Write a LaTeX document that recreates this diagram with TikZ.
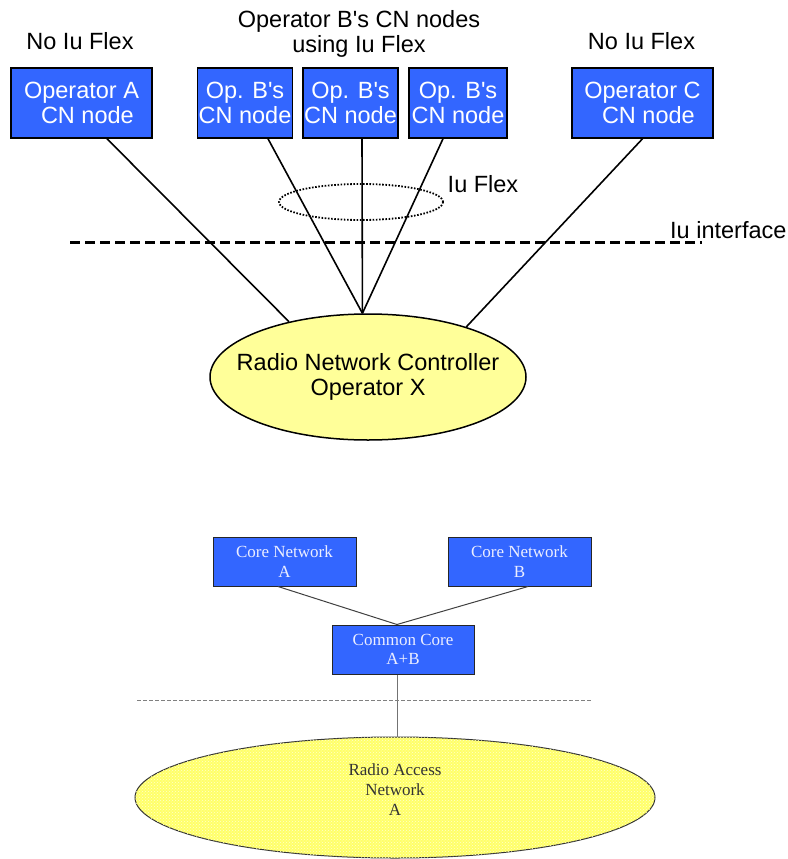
\documentclass[tikz,border=0pt]{standalone}
\usepackage{fontspec}
\setmainfont{Liberation Sans}[Ligatures=TeXOff]
\newfontfamily\tnr{Liberation Serif}
\usetikzlibrary{shapes.geometric,patterns}
\definecolor{cnblue}{RGB}{51,102,255}
\definecolor{cnlabel}{RGB}{236,238,255}
\definecolor{rncyellow}{RGB}{255,255,153}
\definecolor{ranyellow}{RGB}{255,255,105}
\definecolor{ranspot}{RGB}{255,255,205}

\begin{document}
\begin{tikzpicture}[x=1pt,y=1pt,yscale=-1,xscale=1,
  cnbox/.style={draw=black,line width=1.5pt,fill=cnblue,text=white,minimum height=70pt,inner sep=0pt,align=center,font=\fontsize{23.5}{25}\selectfont},
  corebox/.style={draw=black!85,line width=1pt,fill=cnblue,text=cnlabel,minimum width=143pt,minimum height=49pt,inner sep=0pt,align=center,font=\tnr\fontsize{17}{19.5}\selectfont},
  sanslabel/.style={inner sep=0pt,align=center,font=\fontsize{23.5}{25}\selectfont},
  seriflabel/.style={inner sep=0pt,align=center,text=black!80,font=\tnr\fontsize{17}{20}\selectfont},
  link/.style={line width=1.6pt},
  thinlink/.style={line width=1pt,draw=black!75}]
\useasboundingbox (0,0) rectangle (787,859);

%Shapes
\node[cnbox,minimum width=141pt] (opA) at (81.5,103) {Operator A\\\hspace*{0.5em}CN node};
\node[cnbox,minimum width=95pt] (opB1) at (245,103) {Op. B's\\CN node};
\node[cnbox,minimum width=95pt] (opB2) at (350.5,103) {Op. B's\\CN node};
\node[cnbox,minimum width=98pt] (opB3) at (458,103) {Op. B's\\CN node};
\node[cnbox,minimum width=141pt] (opC) at (642.5,103) {Operator C\\\hspace*{0.5em}CN node};
\node[ellipse,draw,line width=1.5pt,fill=rncyellow,minimum width=316pt,minimum height=126pt,inner sep=0pt] (rnc) at (368,377) {};
\node[ellipse,draw,line width=1.8pt,dash pattern=on 1.6pt off 1.6pt,minimum width=164pt,minimum height=36pt,inner sep=0pt] (flexring) at (361,202) {};

% Text Node
\node[sanslabel,anchor=base] (noflexA) at (80,50) {No Iu Flex};
% Text Node
\node[sanslabel,anchor=base] (noflexC) at (641.5,50) {No Iu Flex};
% Text Node
\node[sanslabel] (flexB) at (359,33.5) {Operator B's CN nodes\\using Iu Flex};
% Text Node
\node[sanslabel,anchor=base] (flexlabel) at (483,192) {Iu Flex};
% Text Node
\node[sanslabel,anchor=base west] (iulabel) at (670,238) {Iu interface};
% Text Node
\node[sanslabel] (rnctext) at (rnc.center) {Radio Network Controller\\Operator X};

%Straight Lines
\draw[link] ([xshift=25.5pt]opA.south) -- (rnc.145);
\draw[link] ([xshift=23pt]opB1.south) -- (rnc.95);
\draw[link] ([xshift=11.5pt]opB2.south) -- (rnc.95);
\draw[link] ([xshift=-15pt]opB3.south) -- (rnc.95);
\draw[link] (opC.south) -- (rnc.27);

%Dashed Line
\coordinate (iuL) at (70,242.5);
\coordinate (iuR) at (702,242.5);
\draw[line width=2.2pt,dash pattern=on 10pt off 5pt] (iuL) -- (iuR);

%Shapes
\node[corebox] (cnA) at (284.5,561.5) {Core Network\\A};
\node[corebox] (cnB) at (519.5,561.5) {Core Network\\B};
\node[corebox,minimum width=142pt] (cc) at (403,649.5) {Common Core\\A+B};
\node[ellipse,draw=black!80,line width=1pt,fill=ranyellow,postaction={pattern=crosshatch dots,pattern color=ranspot},minimum width=520pt,minimum height=121pt,inner sep=0pt] (ran) at (395,797.5) {};

% Text Node
\node[seriflabel,anchor=north] (rantext) at (395,763) {Radio Access\\Network\\A};

%Straight Lines
\draw[thinlink] ([xshift=-6.5pt]cnA.south) -- ([xshift=-6pt]cc.north);
\draw[thinlink] ([xshift=8.5pt]cnB.south) -- ([xshift=-6pt]cc.north);
\draw[thinlink,draw=black!55] ([xshift=-6pt]cc.south) -- ([xshift=-6pt]cc.south |- ran.north);

%Dotted Line
\coordinate (ranL) at (137,700);
\coordinate (ranR) at (591,700);
\draw[black!50,line width=0.8pt,dash pattern=on 4pt off 2pt] (ranL) -- (ranR);

\end{tikzpicture}
\end{document}
